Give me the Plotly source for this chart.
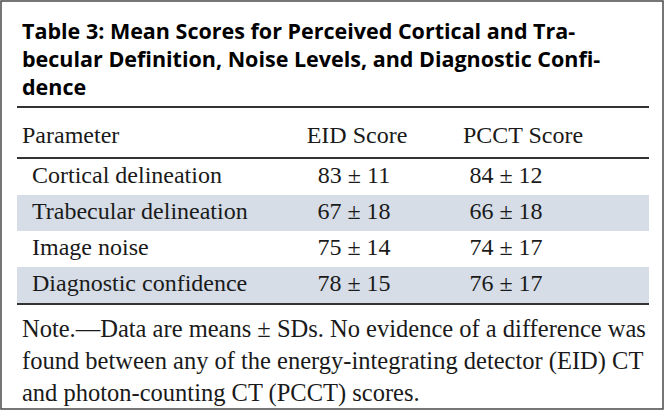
import plotly.graph_objects as go

# ---- data ----
title_lines = [
    "Table 3: Mean Scores for Perceived Cortical and Tra-",
    "becular Definition, Noise Levels, and Diagnostic Confi-",
    "dence",
]
header = ["Parameter", "EID Score", "PCCT Score"]
parameters = ["Cortical delineation", "Trabecular delineation", "Image noise", "Diagnostic confidence"]
eid_mean = [83, 67, 75, 78]
eid_sd = [11, 18, 14, 15]
pcct_mean = [84, 66, 74, 76]
pcct_sd = [12, 18, 17, 17]
note_lines = [
    "Note.\u2014Data are means \u00b1 SDs. No evidence of a difference was",
    "found between any of the energy-integrating detector (EID) CT",
    "and photon-counting CT (PCCT) scores.",
]

# ---- layout constants ----
W, H = 666, 412
left, right = 17, 649
row_top, row_h = 159, 36
header_y = 137
col_x = [32, 354, 506]
serif = "Liberation Serif"
sans = "Open Sans"
text_color = "#1a1a1a"
shade = "#d6dde7"
rule_color = "#333333"
fs = 24

n = len(parameters)
row_y = [row_top + row_h * (i + 0.5) for i in range(n)]

eid_txt = [f"{m} \u00b1 {s}" for m, s in zip(eid_mean, eid_sd)]
pcct_txt = [f"{m} \u00b1 {s}" for m, s in zip(pcct_mean, pcct_sd)]

fig = go.Figure()

shapes = []
# outer border
shapes.append(dict(type="rect", x0=1, y0=1, x1=W - 3, y1=H - 3,
                   line=dict(color="#4a4a4a", width=1.5), fillcolor="rgba(0,0,0,0)", layer="below"))
# shaded alternate rows
for i in range(n):
    if i % 2 == 1:
        shapes.append(dict(type="rect", x0=left, x1=right,
                           y0=row_top + row_h * i, y1=row_top + row_h * (i + 1),
                           line=dict(width=0), fillcolor=shade, layer="below"))
# rules
for y in [107, row_top - 1, row_top + row_h * n + 1]:
    shapes.append(dict(type="line", x0=left, x1=right, y0=y, y1=y,
                       line=dict(color=rule_color, width=2)))

tf = dict(family=serif, size=fs, color=text_color)
# header row
fig.add_trace(go.Scatter(
    x=[22, 357, 523], y=[header_y] * 3, mode="text", text=header,
    textposition=["middle right", "middle center", "middle center"],
    textfont=tf, hoverinfo="skip"))
# body columns
fig.add_trace(go.Scatter(
    x=[col_x[0]] * n, y=row_y, mode="text", text=parameters,
    textposition="middle right", textfont=tf, hoverinfo="skip"))
fig.add_trace(go.Scatter(
    x=[col_x[1]] * n, y=row_y, mode="text", text=eid_txt,
    textposition="middle center", textfont=tf, hoverinfo="skip"))
fig.add_trace(go.Scatter(
    x=[col_x[2]] * n, y=row_y, mode="text", text=pcct_txt,
    textposition="middle center", textfont=tf, hoverinfo="skip"))

annotations = [
    dict(x=20, y=14, xref="x", yref="y", xanchor="left", yanchor="top", align="left",
         showarrow=False, text="<b>" + "<br>".join(title_lines) + "</b>",
         font=dict(family=sans, size=21.5, color="#000000")),
    dict(x=20, y=313, xref="x", yref="y", xanchor="left", yanchor="top", align="left",
         showarrow=False, text="<br>".join(note_lines),
         font=dict(family=serif, size=24.5, color=text_color)),
]

fig.update_layout(
    width=W, height=H, autosize=False,
    margin=dict(l=0, r=0, t=0, b=0),
    paper_bgcolor="white", plot_bgcolor="white",
    showlegend=False,
    xaxis=dict(range=[0, W], visible=False, fixedrange=True),
    yaxis=dict(range=[H, 0], visible=False, fixedrange=True),
    shapes=shapes, annotations=annotations,
)

fig.write_html("out.html", config={"displayModeBar": False},
               post_script="document.body.style.margin='0';document.body.style.overflow='hidden';")
